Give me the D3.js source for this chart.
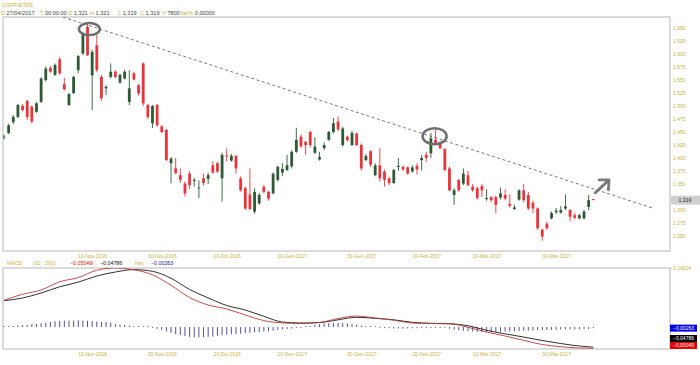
<!DOCTYPE html>
<html>
<head>
<meta charset="utf-8">
<script src="https://cdn.jsdelivr.net/npm/d3@7"></script>
<style>
  body { margin: 0; background: #fff; }
  svg { display: block; font-family: "Liberation Sans", Arial, sans-serif; }
</style>
</head>
<body>
<div id="chart"></div>
<script>
// daily candles, oldest first (COFF/ETFS)
const opens = [1440,1448,1469,1479,1500,1510,1499,1489,1508,1550,1573,1560,1590,1542,1502,1525,1569,1601,1652,1559,
  1617,1556,1534,1556,1566,1545,1553,1508,1563,1540,1582,1502,1467,1502,1461,1454,1390,1380,1367,1351,
  1370,1356,1342,1361,1360,1386,1390,1361,1405,1395,1404,1361,1342,1330,1297,1313,1345,1335,1332,1358,
  1372,1377,1384,1412,1441,1431,1450,1410,1397,1419,1435,1450,1470,1425,1441,1425,1447,1425,1396,1413,
  1367,1386,1374,1361,1352,1383,1383,1382,1374,1385,1396,1406,1409,1435,1428,1417,1380,1329,1358,1351,
  1367,1345,1342,1346,1321,1325,1325,1324,1329,1312,1302,1320,1338,1329,1314,1303,1262,1274,1284,1296,
  1295,1303,1300,1290,1284,1284,1306,1321];
const highs = [1445,1466,1483,1504,1504,1512,1501,1508,1555,1576,1577,1582,1594,1554,1525,1558,1598,1642,1658,1608,
  1637,1560,1540,1582,1569,1562,1570,1569,1566,1542,1584,1504,1502,1504,1463,1456,1402,1400,1380,1355,
  1375,1362,1357,1370,1372,1394,1393,1410,1419,1408,1406,1365,1345,1380,1342,1333,1348,1337,1372,1385,
  1390,1406,1415,1458,1445,1433,1452,1440,1412,1430,1452,1477,1480,1460,1443,1452,1449,1428,1408,1415,
  1390,1419,1378,1364,1379,1400,1386,1384,1386,1390,1406,1412,1448,1455,1432,1419,1383,1342,1360,1380,
  1375,1350,1345,1350,1340,1326,1328,1343,1340,1330,1310,1340,1350,1335,1318,1305,1264,1278,1297,1304,
  1308,1330,1302,1294,1293,1300,1329,1321];
const lows = [1436,1446,1465,1477,1490,1473,1467,1487,1506,1547,1564,1558,1560,1530,1500,1523,1563,1598,1596,1492,
  1565,1510,1521,1553,1553,1543,1551,1502,1549,1520,1500,1475,1458,1460,1448,1394,1351,1369,1352,1326,
  1340,1345,1323,1347,1350,1370,1371,1316,1393,1393,1370,1335,1300,1300,1293,1310,1332,1318,1330,1355,
  1365,1375,1380,1410,1420,1406,1420,1408,1395,1415,1433,1447,1452,1422,1432,1423,1423,1376,1394,1383,
  1365,1355,1345,1348,1350,1375,1375,1368,1372,1368,1376,1392,1400,1426,1417,1375,1336,1310,1335,1348,
  1345,1335,1320,1325,1318,1315,1294,1320,1319,1305,1300,1318,1315,1300,1294,1262,1241,1262,1282,1292,
  1293,1300,1278,1282,1282,1282,1300,1319];
const closes = [1441,1463,1479,1502,1492,1479,1470,1505,1553,1572,1566,1579,1563,1532,1523,1556,1596,1640,1598,1604,
  1569,1515,1537,1566,1556,1560,1566,1534,1551,1524,1505,1479,1500,1463,1450,1396,1399,1371,1358,1332,
  1348,1358,1343,1352,1367,1372,1374,1406,1403,1404,1380,1338,1303,1302,1335,1329,1335,1322,1370,1383,
  1379,1386,1412,1435,1422,1425,1425,1422,1402,1425,1450,1467,1455,1457,1434,1448,1425,1380,1404,1387,
  1386,1361,1358,1352,1377,1385,1378,1370,1382,1378,1400,1400,1438,1428,1419,1377,1338,1338,1338,1370,
  1348,1338,1323,1338,1323,1319,1310,1332,1322,1308,1305,1338,1319,1303,1303,1265,1249,1265,1294,1299,
  1300,1307,1287,1285,1290,1297,1319,1319];

// date labels (candle index where each label sits)
const tickIdx = [19, 34, 48, 62, 77, 91, 104, 119];
const tickLabels = ["10-Nov-2016", "30-Nov-2016", "20-Dic-2016", "10-Gen-2017",
  "30-Gen-2017", "20-Feb-2017", "10-Mar-2017", "30-Mar-2017"];
// 1,325 is hidden behind the last-price box in the original
const priceTicks = [1250, 1275, 1300, 1350, 1375, 1400, 1425, 1450, 1475,
  1500, 1525, 1550, 1575, 1600, 1625, 1650];

// MACD (32, 200) with signal 9, read at every 4th candle
const macdIdx = [0,4,8,12,16,20,24,28,32,36,40,44,48,52,56,60,64,68,72,76,80,84,88,92,96,100,104,108,112,116,120,124,127];
const macdVals = [0.0637,0.0777,0.0879,0.1074,0.1173,0.1349,0.1401,0.1359,0.1240,0.0990,0.0701,0.0523,0.0428,0.0285,
  0.0152,0.0097,0.0083,0.0107,0.0202,0.0261,0.0214,0.0162,0.0095,0.0083,0.0078,-0.0007,-0.0119,-0.0214,-0.0316,
  -0.0416,-0.0466,-0.0499,-0.05049];
const signalVals = [0.0625,0.0689,0.0808,0.0955,0.1066,0.1211,0.1306,0.1363,0.1323,0.1157,0.0891,0.0691,0.0511,0.0404,
  0.0254,0.0119,0.0095,0.0107,0.0171,0.0230,0.0207,0.0171,0.0112,0.0088,0.0078,0.0031,-0.0078,-0.0162,-0.0238,
  -0.0321,-0.0392,-0.0451,-0.04786];
const histVals = [0.0019,0.0024,0.0028,0.0036,0.0043,0.0052,0.0067,0.0076,0.0090,0.0102,
  0.0119,0.0138,0.0150,0.0154,0.0150,0.0154,0.0162,0.0154,0.0150,0.0143,
  0.0131,0.0124,0.0119,0.0107,0.0071,0.0059,0.0048,0.0036,0.0024,0.0014,
  0.0010,0.0007,-0.0024,-0.0043,-0.0067,-0.0107,-0.0138,-0.0166,-0.0190,-0.0214,
  -0.0233,-0.0242,-0.0247,-0.0242,-0.0233,-0.0223,-0.0209,-0.0195,-0.0181,-0.0171,
  -0.0166,-0.0157,-0.0147,-0.0138,-0.0126,-0.0119,-0.0109,-0.0100,-0.0086,-0.0071,
  -0.0057,-0.0048,-0.0036,-0.0024,-0.0012,0.0007,0.0024,0.0048,0.0067,0.0083,
  0.0095,0.0100,0.0100,0.0095,0.0086,0.0071,0.0057,0.0036,0.0019,0.0010,
  0.0005,-0.0012,-0.0024,-0.0029,-0.0033,-0.0036,-0.0036,-0.0033,-0.0031,-0.0029,
  -0.0024,-0.0019,-0.0014,-0.0012,-0.0014,-0.0024,-0.0043,-0.0062,-0.0078,-0.0090,
  -0.0100,-0.0109,-0.0114,-0.0119,-0.0119,-0.0119,-0.0116,-0.0114,-0.0109,-0.0105,
  -0.0100,-0.0095,-0.0090,-0.0086,-0.0081,-0.0076,-0.0071,-0.0069,-0.0067,-0.0064,
  -0.0062,-0.0059,-0.0057,-0.0055,-0.0052,-0.0050,-0.0048,-0.00263];
const macdMax = 0.14014;
const macdLast = -0.05049, signalLast = -0.04786, histLast = -0.00263;

// drawn annotations, in (candle index, price)
const trendLine = [[12.7, 1671], [139.7, 1304]];
const circles = [[18.4, 1648], [92.8, 1442]];
const arrowPts = [[127.4, 1333], [130.4, 1358]];
const lastPrice = 1319;

// header texts
const symbol = "COFF/ETFS";
const headerFields = [["D", "27/04/2017"], ["T", "00:00:00"], ["O", "1,321"], ["H", "1,321"],
  ["L", "1,319"], ["C", "1,319"], ["V", "7800"], ["Var%", "0,00000"]];

const width = 700, height = 365;
const main = { left: 3, right: 670, top: 17, bottom: 251 };
const sub = { left: 3, right: 670, top: 268, bottom: 349 };
const gold = "#c9b040";
const upColor = "#2d5a35", downColor = "#e8353b";

const svg = d3.select("#chart").append("svg")
    .attr("width", width)
    .attr("height", height);

const x = d3.scaleLinear().domain([0, 127]).range([4, 593.3]);
const y = d3.scaleLinear().domain([1221.2, 1671.2]).range([main.bottom, main.top]);
const ym = d3.scaleLinear().domain([-0.0522, macdMax]).range([sub.bottom, sub.top]);

const defs = svg.append("defs");
defs.append("clipPath").attr("id", "clipMain").append("rect")
    .attr("x", main.left).attr("y", main.top)
    .attr("width", main.right - main.left).attr("height", main.bottom - main.top);
defs.append("clipPath").attr("id", "clipSub").append("rect")
    .attr("x", sub.left).attr("y", sub.top)
    .attr("width", sub.right - sub.left).attr("height", sub.bottom - sub.top);

// header
svg.append("text").attr("x", 2).attr("y", 6.5)
    .attr("font-size", 5.6).attr("fill", gold).text(symbol);
const headerX = [1, 40, 68, 90, 118, 140, 162, 180];
headerFields.forEach((f, i) => {
  const lab = svg.append("text").attr("x", headerX[i]).attr("y", 14.5)
      .attr("font-size", 5.6).attr("fill", gold).text(f[0]);
  const w = lab.node().getComputedTextLength();
  svg.append("text").attr("x", headerX[i] + w + 1.5).attr("y", 14.5)
      .attr("font-size", 5.6).attr("fill", "#444").text(f[1]);
});

// panel frames
[main, sub].forEach(p => {
  svg.append("rect")
      .attr("x", p.left).attr("y", p.top)
      .attr("width", p.right - p.left).attr("height", p.bottom - p.top)
      .attr("fill", "#fff").attr("stroke", "#c4c4c4").attr("stroke-width", 1.2);
});

// candles
const candles = d3.range(opens.length).map(i => ({
  i, o: opens[i], h: highs[i], l: lows[i], c: closes[i]
}));
const gMain = svg.append("g").attr("clip-path", "url(#clipMain)");
const cg = gMain.selectAll("g.candle").data(candles).enter().append("g")
    .attr("class", "candle")
    .attr("fill", d => d.c >= d.o ? upColor : downColor)
    .attr("stroke", d => d.c >= d.o ? upColor : downColor);
cg.append("line")
    .attr("x1", d => x(d.i)).attr("x2", d => x(d.i))
    .attr("y1", d => y(d.h)).attr("y2", d => y(d.l))
    .attr("stroke-width", 0.9);
cg.append("rect")
    .attr("x", d => x(d.i) - 1.4)
    .attr("width", 2.8)
    .attr("y", d => y(Math.max(d.o, d.c)))
    .attr("height", d => Math.max(0.8, Math.abs(y(d.o) - y(d.c))))
    .attr("stroke", "none");

// trend line
gMain.append("line")
    .attr("x1", x(trendLine[0][0])).attr("y1", y(trendLine[0][1]))
    .attr("x2", x(trendLine[1][0])).attr("y2", y(trendLine[1][1]))
    .attr("stroke", "#555").attr("stroke-width", 0.8)
    .attr("stroke-dasharray", "3,2.5");

// circled highs
gMain.selectAll("ellipse").data(circles).enter().append("ellipse")
    .attr("cx", d => x(d[0])).attr("cy", d => y(d[1]))
    .attr("rx", (d, i) => i === 0 ? 10.5 : 12)
    .attr("ry", (d, i) => i === 0 ? 6 : 8)
    .attr("fill", "none").attr("stroke", "#6f6f6f").attr("stroke-width", 2.5);

// arrow
const ax0 = x(arrowPts[0][0]), ay0 = y(arrowPts[0][1]);
const ax1 = x(arrowPts[1][0]), ay1 = y(arrowPts[1][1]);
const ang = Math.atan2(ay1 - ay0, ax1 - ax0);
const arrowPath = d3.path();
arrowPath.moveTo(ax0, ay0); arrowPath.lineTo(ax1, ay1);
[Math.PI - 0.75, Math.PI + 0.75].forEach(a => {
  arrowPath.moveTo(ax1, ay1);
  arrowPath.lineTo(ax1 + 10 * Math.cos(ang + a), ay1 + 10 * Math.sin(ang + a));
});
gMain.append("path").attr("d", arrowPath.toString())
    .attr("fill", "none").attr("stroke", "#7a7a7a")
    .attr("stroke-width", 2.8).attr("stroke-linecap", "round");

// price axis
const yAxis = d3.axisRight(y).tickValues(priceTicks).tickFormat(d3.format(",")).tickSize(0).tickPadding(3);
const yAx = svg.append("g").attr("transform", `translate(${main.right},0)`).call(yAxis);
yAx.select(".domain").remove();
yAx.selectAll("text").attr("fill", gold).attr("font-size", 5).attr("font-family", null);

// last price box
svg.append("rect").attr("x", main.right + 1).attr("y", y(lastPrice) - 4.5)
    .attr("width", 29).attr("height", 9).attr("fill", "#cfcfcf");
svg.append("text").attr("x", main.right + 15).attr("y", y(lastPrice) + 2)
    .attr("text-anchor", "middle").attr("font-size", 5.2).attr("fill", "#222")
    .text(d3.format(",")(lastPrice));

// date axes, under both panels
[main, sub].forEach(p => {
  const xa = svg.append("g").attr("transform", `translate(0,${p.bottom})`)
      .call(d3.axisBottom(x).tickValues(tickIdx).tickFormat((d, i) => tickLabels[i]).tickSize(0).tickPadding(3));
  xa.select(".domain").remove();
  xa.selectAll("text").attr("fill", gold).attr("font-size", 5).attr("font-family", null);
});

// MACD panel
const itLocale = d3.formatLocale({ decimal: ",", thousands: ".", grouping: [3], currency: ["", "€"] });
const fmt5 = itLocale.format(".5f");
const gSub = svg.append("g").attr("clip-path", "url(#clipSub)");
gSub.selectAll("line.hist").data(histVals).enter().append("line")
    .attr("class", "hist")
    .attr("x1", (d, i) => x(i)).attr("x2", (d, i) => x(i))
    .attr("y1", ym(0))
    .attr("y2", d => {
      const dy = ym(d) - ym(0);
      return ym(0) + (Math.abs(dy) < 1 ? (dy < 0 ? -1 : 1) : dy);
    })
    .attr("stroke", "#3e3e8e").attr("stroke-width", 0.9);

const macdLine = d3.line()
    .x((d, i) => x(macdIdx[i]))
    .y(d => ym(d))
    .curve(d3.curveMonotoneX);
gSub.append("path").datum(signalVals).attr("d", macdLine)
    .attr("fill", "none").attr("stroke", "#1a1a1a").attr("stroke-width", 0.9);
gSub.append("path").datum(macdVals).attr("d", macdLine)
    .attr("fill", "none").attr("stroke", "#b83a3a").attr("stroke-width", 0.9);

// MACD scale label
const mAx = svg.append("g").attr("transform", `translate(${sub.right},0)`)
    .call(d3.axisRight(ym).tickValues([macdMax]).tickFormat(fmt5).tickSize(2).tickPadding(1));
mAx.select(".domain").remove();
mAx.selectAll("line").attr("stroke", "#c4c4c4");
mAx.selectAll("text").attr("fill", gold).attr("font-size", 5).attr("font-family", null);

// MACD last-value boxes, stacked so they do not overlap
const boxes = [
  { v: histLast, fill: "#0000e6" },
  { v: signalLast, fill: "#000" },
  { v: macdLast, fill: "#e60000" }
].map(b => ({ ...b, cy: ym(b.v) }));
boxes.sort((a, b) => b.cy - a.cy);
const boxH = 7;
boxes.forEach((b, k) => {
  let cy = Math.min(b.cy, sub.bottom - boxH / 2);
  if (k > 0) cy = Math.min(cy, boxes[k - 1].cy - boxH);
  b.cy = cy;
});
boxes.forEach(b => {
  svg.append("rect").attr("x", sub.right).attr("y", b.cy - boxH / 2)
      .attr("width", 27).attr("height", boxH).attr("fill", b.fill);
  svg.append("text").attr("x", sub.right + 13.5).attr("y", b.cy + 1.8)
      .attr("text-anchor", "middle").attr("font-size", 5).attr("fill", "#fff")
      .text(fmt5(b.v));
});

// MACD legend
const legend = [
  ["MACD", gold, 7], ["(32 ; 200):", gold, 33], [fmt5(macdLast), "#d01010", 70],
  ["9 :", gold, 91], [fmt5(signalLast), "#111", 100], ["hist :", gold, 135], [fmt5(histLast), "#20208a", 151]
];
legend.forEach(l => {
  svg.append("text").attr("x", l[2]).attr("y", 264.5)
      .attr("font-size", 5.3).attr("fill", l[1]).text(l[0]);
});
</script>
</body>
</html>
